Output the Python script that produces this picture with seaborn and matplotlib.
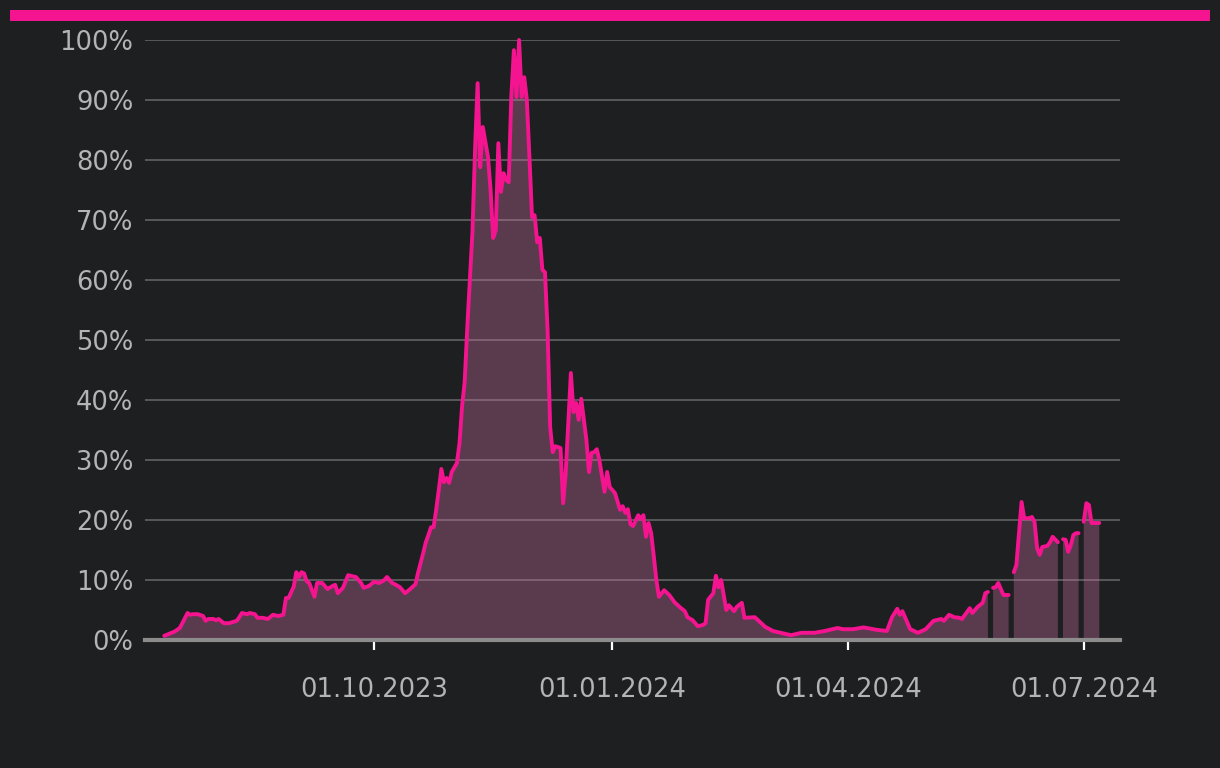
import numpy as np
import pandas as pd
import matplotlib
matplotlib.use("Agg")
import matplotlib.pyplot as plt
from matplotlib.patches import Rectangle
import seaborn as sns

# ---------------- data ----------------
dates = [
    "2023-07-12", "2023-07-16", "2023-07-18", "2023-07-19", "2023-07-21", "2023-07-22",
    "2023-07-23", "2023-07-25", "2023-07-27", "2023-07-28", "2023-07-29", "2023-07-31",
    "2023-08-01", "2023-08-02", "2023-08-04", "2023-08-06", "2023-08-09", "2023-08-10",
    "2023-08-11", "2023-08-13", "2023-08-14", "2023-08-16", "2023-08-17", "2023-08-19",
    "2023-08-21", "2023-08-23", "2023-08-25", "2023-08-27", "2023-08-28", "2023-08-29",
    "2023-08-31", "2023-09-01", "2023-09-02", "2023-09-03", "2023-09-04", "2023-09-05",
    "2023-09-06", "2023-09-08", "2023-09-09", "2023-09-11", "2023-09-13", "2023-09-15",
    "2023-09-16", "2023-09-17", "2023-09-19", "2023-09-21", "2023-09-22", "2023-09-24",
    "2023-09-26", "2023-09-27", "2023-09-29", "2023-10-01", "2023-10-03", "2023-10-05",
    "2023-10-06", "2023-10-08", "2023-10-09", "2023-10-11", "2023-10-13", "2023-10-15",
    "2023-10-17", "2023-10-18", "2023-10-20", "2023-10-21", "2023-10-22", "2023-10-23",
    "2023-10-24", "2023-10-25", "2023-10-26", "2023-10-27", "2023-10-28", "2023-10-29",
    "2023-10-30", "2023-10-31", "2023-11-02", "2023-11-03", "2023-11-04", "2023-11-05",
    "2023-11-06", "2023-11-08", "2023-11-09", "2023-11-10", "2023-11-11", "2023-11-12",
    "2023-11-14", "2023-11-15", "2023-11-16", "2023-11-17", "2023-11-18", "2023-11-19",
    "2023-11-20", "2023-11-21", "2023-11-22", "2023-11-23", "2023-11-24", "2023-11-25",
    "2023-11-26", "2023-11-27", "2023-11-28", "2023-11-29", "2023-11-30", "2023-12-01",
    "2023-12-02", "2023-12-03", "2023-12-04", "2023-12-05", "2023-12-06", "2023-12-07",
    "2023-12-08", "2023-12-09", "2023-12-10", "2023-12-12", "2023-12-13", "2023-12-14",
    "2023-12-16", "2023-12-17", "2023-12-18", "2023-12-19", "2023-12-20", "2023-12-22",
    "2023-12-23", "2023-12-24", "2023-12-25", "2023-12-26", "2023-12-27", "2023-12-29",
    "2023-12-30", "2023-12-31", "2024-01-02", "2024-01-04", "2024-01-05", "2024-01-06",
    "2024-01-07", "2024-01-08", "2024-01-09", "2024-01-11", "2024-01-12", "2024-01-13",
    "2024-01-14", "2024-01-15", "2024-01-16", "2024-01-17", "2024-01-18", "2024-01-19",
    "2024-01-21", "2024-01-23", "2024-01-25", "2024-01-27", "2024-01-29", "2024-01-30",
    "2024-02-01", "2024-02-03", "2024-02-05", "2024-02-06", "2024-02-07", "2024-02-09",
    "2024-02-10", "2024-02-11", "2024-02-12", "2024-02-14", "2024-02-15", "2024-02-17",
    "2024-02-18", "2024-02-20", "2024-02-21", "2024-02-25", "2024-02-27", "2024-02-29",
    "2024-03-03", "2024-03-06", "2024-03-10", "2024-03-14", "2024-03-19", "2024-03-23",
    "2024-03-28", "2024-03-30", "2024-04-03", "2024-04-07", "2024-04-12", "2024-04-16",
    "2024-04-18", "2024-04-20", "2024-04-21", "2024-04-22", "2024-04-25", "2024-04-28",
    "2024-05-01", "2024-05-04", "2024-05-07", "2024-05-08", "2024-05-10", "2024-05-12",
    "2024-05-14", "2024-05-15", "2024-05-18", "2024-05-19", "2024-05-21", "2024-05-23",
    "2024-05-24", "2024-05-25", "2024-05-26", "2024-05-27", "2024-05-28", "2024-05-29",
    "2024-05-31", "2024-06-02", "2024-06-03", "2024-06-04", "2024-06-05", "2024-06-06",
    "2024-06-07", "2024-06-08", "2024-06-10", "2024-06-11", "2024-06-12", "2024-06-13",
    "2024-06-14", "2024-06-15", "2024-06-17", "2024-06-18", "2024-06-19", "2024-06-21",
    "2024-06-22", "2024-06-23", "2024-06-24", "2024-06-25", "2024-06-26", "2024-06-27",
    "2024-06-28", "2024-06-29", "2024-06-30", "2024-07-01", "2024-07-02", "2024-07-03",
    "2024-07-04", "2024-07-07",
]

values = [
    0.7, 1.4, 2.0, 2.8, 4.5, 4.2,
    4.3, 4.3, 4.0, 3.2, 3.5, 3.5,
    3.3, 3.5, 2.8, 2.8, 3.2, 3.8,
    4.5, 4.3, 4.5, 4.3, 3.7, 3.7,
    3.5, 4.2, 4.0, 4.2, 7.0, 7.0,
    8.9, 11.3, 10.5, 11.3, 11.1, 9.8,
    9.5, 7.2, 9.5, 9.5, 8.5, 9.0,
    9.2, 7.8, 8.7, 10.8, 10.7, 10.5,
    9.5, 8.7, 9.0, 9.7, 9.5, 10.0,
    10.5, 9.5, 9.3, 8.8, 7.8, 8.5,
    9.3, 11.2, 14.5, 16.3, 17.5, 18.8,
    18.8, 21.7, 25.0, 28.5, 26.3, 27.0,
    26.2, 28.0, 29.5, 32.8, 39.0, 43.0,
    52.0, 68.0, 81.7, 92.8, 78.8, 85.5,
    80.5, 75.0, 67.0, 68.3, 82.8, 74.7,
    77.8, 76.7, 76.3, 90.5, 98.3, 90.5,
    100.0, 90.5, 93.8, 90.0, 80.5, 70.5,
    70.8, 66.3, 67.0, 61.7, 61.3, 51.7,
    35.5, 31.3, 32.3, 32.0, 22.8, 27.8,
    44.5, 38.0, 39.5, 36.7, 40.2, 33.3,
    28.0, 31.2, 31.3, 31.8, 30.0, 24.7,
    28.0, 25.5, 24.5, 21.7, 22.3, 21.2,
    21.8, 19.3, 19.0, 20.8, 20.2, 20.8,
    17.2, 19.5, 17.8, 14.0, 10.0, 7.2,
    8.3, 7.5, 6.3, 5.5, 4.8, 3.8,
    3.3, 2.3, 2.5, 2.8, 6.7, 7.8,
    10.7, 8.8, 10.0, 5.0, 5.8, 4.8,
    5.5, 6.2, 3.7, 3.8, 3.0, 2.2,
    1.5, 1.2, 0.8, 1.2, 1.2, 1.5,
    2.0, 1.8, 1.8, 2.1, 1.7, 1.5,
    3.8, 5.2, 4.2, 4.8, 1.8, 1.2,
    1.8, 3.2, 3.5, 3.2, 4.2, 3.8,
    3.7, 3.5, 5.3, 4.5, 5.5, 6.2,
    7.8, 8.0, np.nan, 8.7, 8.8, 9.5,
    7.5, 7.5, np.nan, 11.3, 12.5, 17.8,
    23.0, 20.3, 20.3, 20.5, 19.7, 15.3,
    14.2, 15.5, 15.7, 16.3, 17.2, 16.3,
    np.nan, 16.8, 16.7, 14.7, 15.8, 17.5,
    17.8, 17.8, np.nan, 19.7, 22.8, 22.5,
    19.5, 19.5,
]

x_tick_dates = ["2023-10-01", "2024-01-01", "2024-04-01", "2024-07-01"]
x_tick_labels = ["01.10.2023", "01.01.2024", "01.04.2024", "01.07.2024"]
y_ticks = [0, 10, 20, 30, 40, 50, 60, 70, 80, 90, 100]
y_tick_labels = ["0%", "10%", "20%", "30%", "40%", "50%", "60%", "70%", "80%", "90%", "100%"]

# ---------------- style ----------------
BG = "#1e1f21"
PINK = "#f5148f"
FILL = "#cc72a4"
GRID = "#5e5e60"
TEXT = "#b4b4b6"

sns.set_style("dark", {"axes.facecolor": BG, "figure.facecolor": BG})
plt.rcParams["font.family"] = ["DejaVu Sans"]

fig = plt.figure(figsize=(12.2, 7.68), dpi=100, facecolor=BG)
ax = fig.add_axes([145 / 1220, (768 - 640) / 768, (1120 - 145) / 1220, 600 / 768])
ax.set_facecolor(BG)

df = pd.DataFrame({"date": pd.to_datetime(dates), "value": values})
df["segment"] = df["value"].isna().cumsum()

ax.fill_between(df["date"], 0, df["value"].to_numpy(dtype=float),
                color=FILL, alpha=0.35, lw=0, zorder=2)
sns.lineplot(data=df.dropna(), x="date", y="value", units="segment", estimator=None,
             color=PINK, lw=2.8, ax=ax, zorder=3, clip_on=False)

ax.set_xlim(pd.Timestamp("2023-07-04 14:00"), pd.Timestamp("2024-07-15"))
ax.set_ylim(0, 100)

ax.set_yticks(y_ticks)
ax.set_yticklabels(y_tick_labels)
ax.set_xticks(pd.to_datetime(x_tick_dates))
ax.set_xticklabels(x_tick_labels)

ax.set_xlabel("")
ax.set_ylabel("")

ax.yaxis.grid(True, color=GRID, lw=1.3)
ax.xaxis.grid(False)
ax.set_axisbelow(True)

for s in ["left", "right", "top"]:
    ax.spines[s].set_visible(False)
ax.spines["bottom"].set_visible(True)
ax.spines["bottom"].set_color("#8c8c8c")
ax.spines["bottom"].set_linewidth(3.0)
ax.spines["bottom"].set_zorder(4)

ax.tick_params(axis="y", length=0, pad=8.5, labelsize=18.5, labelcolor=TEXT)
ax.tick_params(axis="x", direction="out", length=7.5, width=1.6, color="#ffffff",
               pad=19, labelsize=18.5, labelcolor=TEXT, bottom=True)

# pink bar on top
fig.patches.append(Rectangle((10 / 1220, (768 - 21) / 768), 1200 / 1220, 11 / 768,
                             transform=fig.transFigure, facecolor=PINK, edgecolor="none"))

fig.savefig("out.png", dpi=100, facecolor=BG)
